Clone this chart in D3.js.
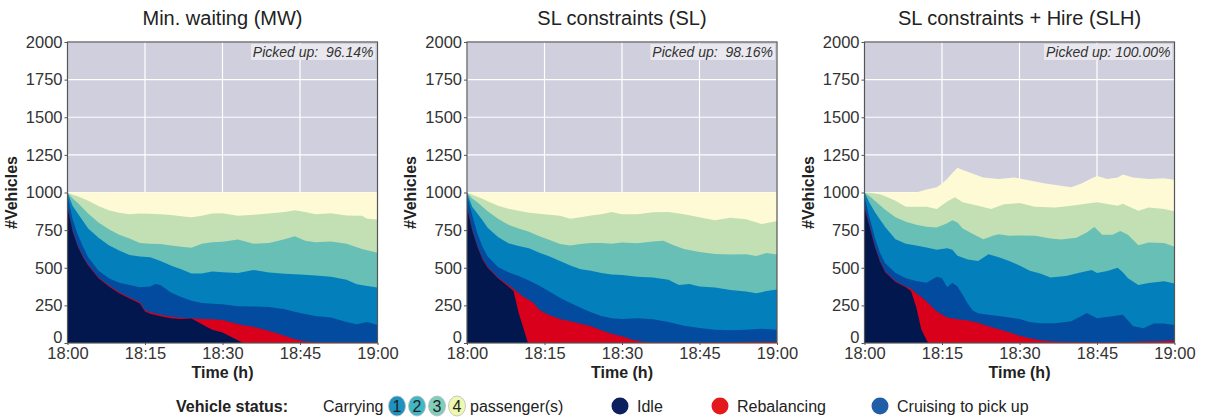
<!DOCTYPE html>
<html>
<head>
<meta charset="utf-8">
<script src="https://cdn.jsdelivr.net/npm/d3@7"></script>
<style>
  body { margin: 0; background: #fff; }
  text { font-family: "Liberation Sans", Arial, Helvetica, sans-serif; }
</style>
</head>
<body>
<svg id="chart"></svg>
<script>
// stacked levels: [minute after 18:00, #vehicles at top of layer]
const mwIdle = [[0,900],[1,740],[2,640],[3,570],[4,515],[6,430],[8,375],[10,330],[12,295],[14,262],[15,210],[16,195],[18,178],[20,165],[22,160],[24,162],[26,125],[28,88],[30,70],[32,35],[34,0],[60,0]];
const mwRebal = [[0,905],[1,745],[2,645],[3,575],[4,520],[6,436],[8,382],[10,338],[12,302],[14,270],[15,218],[16,205],[18,188],[20,175],[22,168],[24,165],[26,160],[28,157],[30,152],[32,135],[34,118],[36,108],[38,90],[40,70],[42,48],[44,25],[46,10],[48,5],[52,3],[60,3]];
const mwCruise = [[0,980],[1,820],[2,720],[3,640],[4,570],[6,480],[8,430],[10,400],[12,385],[14,370],[16,375],[17,392],[18,385],[20,335],[22,305],[24,280],[26,265],[28,260],[30,258],[33,245],[36,243],[39,240],[42,225],[45,200],[48,180],[51,170],[54,140],[56,125],[58,140],[60,120]];
const mwC1 = [[0,1000],[1,910],[2,860],[3,810],[4,760],[6,700],[8,650],[10,615],[12,585],[14,575],[16,570],[18,545],[20,515],[22,490],[24,462],[26,462],[28,475],[30,470],[33,465],[36,485],[39,468],[42,460],[45,455],[48,448],[51,440],[54,420],[56,390],[58,378],[60,368]];
const mwC2 = [[0,1000],[1,960],[2,930],[3,895],[4,860],[6,800],[8,755],[10,720],[12,695],[14,665],[16,660],[18,658],[20,648],[22,640],[24,633],[26,660],[28,670],[30,672],[33,688],[36,660],[39,665],[42,690],[44,710],[46,680],[48,670],[51,675],[54,660],[57,625],[60,600]];
const mwC3 = [[0,1000],[1,985],[2,975],[3,960],[4,945],[6,910],[8,882],[10,865],[12,855],[14,860],[16,858],[18,855],[20,850],[22,843],[24,835],[26,845],[28,860],[30,862],[33,845],[36,852],[39,860],[42,870],[44,882],[46,870],[48,855],[51,862],[54,848],[57,845],[58,825],[60,820]];
const mwC4 = [[0,1000],[60,1000]];

const slIdle = [[0,900],[1,750],[2,640],[3,555],[4,500],[6,430],[8,375],[9,345],[10,200],[11,90],[11.8,0],[60,0]];
const slRebal = [[0,905],[1,755],[2,645],[3,560],[4,505],[6,435],[8,385],[9,360],[10,330],[11,305],[12,285],[13,262],[14,220],[16,185],[18,160],[20,145],[22,128],[24,112],[26,85],[28,62],[30,45],[32,22],[34,8],[36,4],[40,3],[45,3],[50,5],[55,8],[60,8]];
const slCruise = [[0,980],[1,850],[2,730],[3,640],[4,575],[6,505],[8,470],[10,445],[12,415],[14,380],[16,340],[18,300],[20,265],[22,235],[24,205],[26,180],[28,165],[30,160],[33,165],[36,158],[39,140],[42,115],[45,100],[48,88],[51,85],[54,88],[57,95],[60,88]];
const slC1 = [[0,1000],[1,905],[2,860],[3,815],[4,765],[6,705],[8,662],[10,645],[12,630],[14,600],[16,575],[18,545],[20,515],[22,490],[24,480],[26,465],[28,455],[30,452],[33,440],[36,436],[39,420],[41,385],[43,392],[45,375],[48,368],[51,352],[54,343],[56,330],[58,345],[60,355]];
const slC2 = [[0,1000],[1,960],[2,935],[3,905],[4,875],[6,825],[8,785],[10,760],[12,740],[14,710],[16,685],[18,658],[20,648],[22,658],[24,665],[26,665],[28,660],[30,667],[33,662],[36,675],[38,680],[40,650],[42,625],[45,605],[48,592],[51,588],[54,590],[56,578],[58,598],[60,588]];
const slC3 = [[0,1000],[1,985],[2,972],[3,958],[4,942],[6,912],[8,892],[10,878],[12,865],[14,858],[16,852],[18,845],[20,825],[22,835],[24,848],[26,855],[28,870],[30,855],[33,855],[36,868],[39,870],[42,855],[45,835],[48,815],[51,832],[54,822],[57,790],[60,810]];
const slC4 = [[0,1000],[60,1000]];

const slhIdle = [[0,900],[1,770],[2,640],[3,540],[4,470],[6,405],[8,370],[9,345],[10,240],[11,90],[12,20],[12.4,0],[60,0]];
const slhRebal = [[0,905],[1,775],[2,645],[3,545],[4,475],[6,410],[8,375],[9,360],[10,330],[11,305],[12,275],[14,210],[16,170],[18,158],[20,150],[22,135],[24,112],[26,92],[28,72],[30,48],[32,32],[34,18],[36,12],[38,8],[42,6],[46,3],[50,5],[54,10],[57,12],[60,16]];
const slhCruise = [[0,975],[1,830],[2,700],[3,600],[4,530],[6,465],[8,430],[10,412],[12,400],[13,420],[14,440],[15,430],[16,370],[17,400],[18,375],[19,320],[20,260],[21,215],[22,198],[24,188],[26,180],[28,170],[30,160],[32,140],[34,132],[37,132],[40,145],[42,180],[43,200],[45,165],[48,178],[50,188],[51,150],[52,112],[54,98],[56,130],[58,130],[60,120]];
const slhC1 = [[0,1000],[1,930],[2,870],[3,820],[4,770],[6,690],[8,660],[10,648],[12,635],[14,620],[16,630],[17,620],[18,580],[20,555],[22,545],[24,590],[26,570],[28,545],[30,515],[32,480],[34,462],[36,435],[39,445],[42,470],[44,485],[45,465],[47,478],[49,500],[50,470],[51,430],[53,385],[55,398],[58,410],[60,395]];
const slhC2 = [[0,1000],[1,975],[2,945],[3,915],[4,885],[6,835],[8,805],[10,785],[12,772],[14,768],[16,795],[17,815],[18,800],[19,760],[21,725],[23,690],[25,715],[26,722],[28,712],[30,715],[33,712],[36,695],[38,688],[41,700],[43,735],[44.5,770],[46,720],[48,720],[49.5,745],[51,720],[53,650],[55,668],[58,665],[60,640]];
const slhC3 = [[0,1000],[1,998],[2,993],[3,988],[4,975],[6,945],[8,905],[10,905],[12,905],[14,890],[16,940],[17.5,968],[19,935],[22,912],[24.5,890],[27,922],[30,930],[33,905],[37,900],[40,912],[45,935],[49,912],[50,925],[53,878],[55,900],[58,890],[60,875]];
const slhC4 = [[0,1000],[10,1000],[12,1020],[14,1035],[15,1060],[16,1090],[17,1130],[18,1165],[19,1150],[21,1125],[23,1100],[26,1090],[29,1100],[32,1080],[35,1060],[38,1045],[40,1035],[42,1060],[44,1095],[45,1110],[47,1090],[49,1100],[50,1120],[52,1100],[55,1090],[58,1095],[60,1085]];

const titles = ["Min. waiting (MW)", "SL constraints (SL)", "SL constraints + Hire (SLH)"];
const pickedUp = ["Picked up:  96.14%", "Picked up:  98.16%", "Picked up: 100.00%"];
const yTicks = [0, 250, 500, 750, 1000, 1250, 1500, 1750, 2000];
const xTickMinutes = [0, 15, 30, 45, 60];

// layer colours, top layer first (painted first)
const layerColors = ["#fffad6", "#c2e0b4", "#67bfb6", "#0380bb", "#024b9e", "#d8001b", "#03174f"];
const legendCarry = [
  { label: "1", color: "#1d91c0" },
  { label: "2", color: "#41b6c4" },
  { label: "3", color: "#7fcdbb" },
  { label: "4", color: "#edf8b1" },
];
const legendStatus = [
  { label: "Idle", color: "#0c1f5e" },
  { label: "Rebalancing", color: "#e31a1c" },
  { label: "Cruising to pick up", color: "#225ea8" },
];

const panels = [
  [mwC4, mwC3, mwC2, mwC1, mwCruise, mwRebal, mwIdle],
  [slC4, slC3, slC2, slC1, slCruise, slRebal, slIdle],
  [slhC4, slhC3, slhC2, slhC1, slhCruise, slhRebal, slhIdle],
];

const W = 1208, H = 417;
const svg = d3.select("#chart").attr("width", W).attr("height", H);

const plotLefts = [67.5, 467, 864.5];
const plotW = 310;
const plotTop = 42, plotBottom = 343;

const base = new Date(2020, 0, 1, 18, 0);
const toDate = (m) => new Date(base.getTime() + m * 60000);

const y = d3.scaleLinear().domain([0, 2000]).range([plotBottom, plotTop]);

panels.forEach((layers, i) => {
  const left = plotLefts[i];
  const x = d3.scaleTime().domain([toDate(0), toDate(60)]).range([0, plotW]);
  const g = svg.append("g").attr("transform", `translate(${left},0)`);

  g.append("rect")
    .attr("x", 0).attr("y", plotTop)
    .attr("width", plotW).attr("height", plotBottom - plotTop)
    .attr("fill", "#cfcfdd");

  // grid
  g.selectAll(".hgrid").data(yTicks).enter().append("line")
    .attr("x1", 0).attr("x2", plotW)
    .attr("y1", (d) => y(d)).attr("y2", (d) => y(d))
    .attr("stroke", "#fff").attr("stroke-width", 1.2);
  g.selectAll(".vgrid").data(xTickMinutes).enter().append("line")
    .attr("x1", (d) => x(toDate(d))).attr("x2", (d) => x(toDate(d)))
    .attr("y1", plotTop).attr("y2", plotBottom)
    .attr("stroke", "#fff").attr("stroke-width", 1.2);

  const area = d3.area()
    .x((d) => x(toDate(d[0])))
    .y0(y(0))
    .y1((d) => y(d[1]));

  layers.forEach((level, k) => {
    g.append("path")
      .datum(level)
      .attr("d", area)
      .attr("fill", layerColors[k]);
  });

  // frame
  g.append("rect")
    .attr("x", 0).attr("y", plotTop)
    .attr("width", plotW).attr("height", plotBottom - plotTop)
    .attr("fill", "none").attr("stroke", "#555").attr("stroke-width", 1.2);

  // axes
  const yAxis = g.append("g").call(d3.axisLeft(y).tickValues(yTicks)
    .tickFormat(d3.format("d")).tickSize(3).tickPadding(2));
  const xAxis = g.append("g").attr("transform", `translate(0,${plotBottom})`)
    .call(d3.axisBottom(x).tickValues(xTickMinutes.map(toDate))
      .tickFormat(d3.timeFormat("%H:%M")).tickSize(2).tickPadding(2));
  [yAxis, xAxis].forEach((a) => {
    a.select(".domain").remove();
    a.selectAll(".tick line").attr("stroke", "#555");
    a.selectAll(".tick text")
      .attr("fill", "#333")
      .style("font-size", "16.5px");
  });
  // the zero label sits just above the corner, as in the source
  yAxis.selectAll(".tick text").filter((d) => d === 0).attr("dy", "-0.05em");

  g.append("text")
    .attr("x", plotW / 2).attr("y", 25)
    .attr("text-anchor", "middle")
    .style("font-size", "20px").attr("fill", "#222")
    .text(titles[i]);

  g.append("text")
    .attr("x", plotW / 2).attr("y", 378)
    .attr("text-anchor", "middle")
    .style("font-size", "16px").style("font-weight", "bold").attr("fill", "#222")
    .text("Time (h)");

  g.append("text")
    .attr("transform", `translate(-51,${(plotTop + plotBottom) / 2}) rotate(-90)`)
    .attr("text-anchor", "middle")
    .style("font-size", "16px").style("font-weight", "bold").attr("fill", "#222")
    .text("#Vehicles");

  // picked up box
  const pu = g.append("text")
    .attr("x", plotW - 4).attr("y", 57)
    .attr("text-anchor", "end")
    .style("font-size", "14px").style("font-style", "italic").attr("fill", "#333")
    .style("white-space", "pre")
    .text(pickedUp[i]);
  const bb = pu.node().getBBox();
  g.insert("rect", () => pu.node())
    .attr("x", bb.x - 2).attr("y", bb.y)
    .attr("width", bb.width + 4).attr("height", bb.height)
    .attr("fill", "#e8e8ee");
});

// legend
const ly = 406;
const fs = "16px";
const leg = svg.append("g");
leg.append("text").attr("x", 176).attr("y", ly + 5.5)
  .style("font-size", fs).style("font-weight", "bold").attr("fill", "#222")
  .text("Vehicle status:");
leg.append("text").attr("x", 323).attr("y", ly + 5.5)
  .style("font-size", fs).attr("fill", "#222").text("Carrying");

const carryX = d3.scalePoint().domain(legendCarry.map((d) => d.label)).range([397, 457]);
const cg = leg.selectAll(".carry").data(legendCarry).enter().append("g")
  .attr("transform", (d) => `translate(${carryX(d.label)},${ly})`);
cg.append("ellipse").attr("rx", 8.5).attr("ry", 10)
  .attr("fill", (d) => d.color).attr("stroke", "#bbb").attr("stroke-width", 0.8);
cg.append("text").attr("y", 5.5).attr("text-anchor", "middle")
  .style("font-size", fs).attr("fill", "#222").text((d) => d.label);
leg.append("text").attr("x", 470).attr("y", ly + 5.5)
  .style("font-size", fs).attr("fill", "#222").text("passenger(s)");

const statusX = [620, 720, 880];
const sg = leg.selectAll(".status").data(legendStatus).enter().append("g")
  .attr("transform", (d, i) => `translate(${statusX[i]},${ly})`);
sg.append("circle").attr("r", 8.5).attr("fill", (d) => d.color);
sg.append("text").attr("x", 17).attr("y", 5.5)
  .style("font-size", fs).attr("fill", "#222").text((d) => d.label);
</script>
</body>
</html>
